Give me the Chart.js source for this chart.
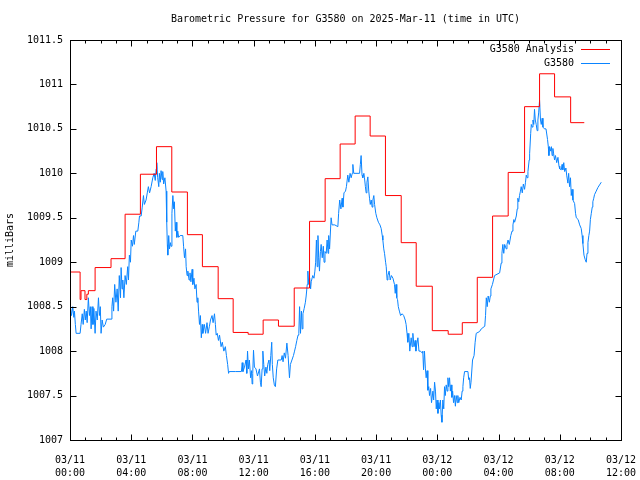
<!DOCTYPE html>
<html>
<head>
<meta charset="utf-8">
<script src="https://cdn.jsdelivr.net/npm/chart.js@4"></script>
<style>
  html, body { margin: 0; padding: 0; background: #fff; }
  canvas { display: block; }
</style>
</head>
<body>
<canvas id="pressureChart" width="640" height="480"></canvas>
<script>
// hours since 03/11 00:00 UTC
var analysisHours = [0, 0.66, 0.72, 0.98, 1.1, 1.2, 1.64, 2.68, 3.6, 4.6,
  5.65, 6.65, 7.67, 8.65, 9.68, 10.66, 11.64, 12.62, 13.62, 14.65,
  15.65, 16.67, 17.65, 18.63, 19.61, 20.61, 21.64, 22.62, 23.67, 24.71,
  25.63, 26.61, 27.61, 28.63, 29.7, 30.68, 31.66, 32.71, 33.6];
var analysisPressure = [1008.89, 1008.58, 1008.68, 1008.58, 1008.64, 1008.68, 1008.94, 1009.04, 1009.54, 1009.99,
  1010.3, 1009.79, 1009.31, 1008.95, 1008.59, 1008.21, 1008.19, 1008.35, 1008.28, 1008.71,
  1009.46, 1009.94, 1010.33, 1010.645, 1010.42, 1009.75, 1009.22, 1008.73, 1008.23, 1008.19,
  1008.32, 1008.83, 1009.52, 1010.01, 1010.75, 1011.12, 1010.86, 1010.57, 1010.57];

var stationHours = [
  0.0, 0.03, 0.1, 0.18, 0.25, 0.29, 0.35, 0.4, 0.66, 0.72,
  0.8, 0.86, 0.94, 1.0, 1.06, 1.12, 1.2, 1.27, 1.33, 1.38,
  1.44, 1.5, 1.56, 1.64, 1.7, 1.78, 1.86, 1.92, 1.98, 2.03,
  2.1, 2.18, 2.3, 2.4, 2.68, 2.74, 2.79, 2.85, 2.92, 3.0,
  3.08, 3.15, 3.22, 3.3, 3.34, 3.4, 3.45, 3.52, 3.6, 3.68,
  3.77, 3.82, 3.88, 3.95, 4.0, 4.08, 4.15, 4.2, 4.3, 4.43,
  4.5, 4.54, 4.65, 4.72, 4.8, 4.86, 4.97, 5.05, 5.12, 5.2,
  5.3, 5.41, 5.5, 5.57, 5.63, 5.67, 5.73, 5.8, 5.84, 5.9,
  5.95, 6.02, 6.06, 6.12, 6.2, 6.28, 6.32, 6.36, 6.39, 6.45,
  6.5, 6.56, 6.6, 6.66, 6.72, 6.78, 6.82, 6.88, 6.93, 6.98,
  7.04, 7.1, 7.2, 7.37, 7.42, 7.48, 7.55, 7.59, 7.65, 7.7,
  7.78, 7.84, 7.9, 7.98, 8.02, 8.1, 8.16, 8.24, 8.3, 8.35,
  8.4, 8.46, 8.52, 8.58, 8.64, 8.68, 8.78, 8.86, 8.95, 9.02,
  9.11, 9.18, 9.28, 9.35, 9.44, 9.5, 9.55, 9.62, 9.7, 9.77,
  9.87, 9.95, 10.05, 10.15, 10.22, 10.3, 10.36, 10.4, 10.8, 11.2,
  11.25, 11.3, 11.4, 11.5, 11.55, 11.6, 11.66, 11.72, 11.8, 11.86,
  11.9, 11.94, 11.99, 12.05, 12.15, 12.25, 12.38, 12.44, 12.49, 12.55,
  12.6, 12.66, 12.72, 12.8, 12.86, 12.92, 13.0, 13.05, 13.12, 13.18,
  13.22, 13.28, 13.35, 13.42, 13.5, 13.58, 13.8, 13.86, 13.92, 14.0,
  14.08, 14.17, 14.25, 14.34, 14.4, 14.5, 14.6, 14.67, 14.74, 14.82,
  14.9, 14.95, 15.0, 15.06, 15.12, 15.17, 15.22, 15.3, 15.38, 15.43,
  15.5, 15.54, 15.6, 15.66, 15.72, 15.76, 15.86, 15.94, 16.0, 16.05,
  16.1, 16.15, 16.2, 16.25, 16.3, 16.36, 16.41, 16.48, 16.55, 16.6,
  16.66, 16.74, 16.8, 16.86, 16.9, 16.96, 17.06, 17.12, 17.3, 17.5,
  17.55, 17.62, 17.7, 17.78, 17.83, 17.9, 18.0, 18.06, 18.15, 18.22,
  18.3, 18.37, 18.44, 18.48, 18.54, 18.92, 18.97, 19.02, 19.08, 19.13,
  19.2, 19.24, 19.3, 19.35, 19.4, 19.46, 19.52, 19.57, 19.62, 19.68,
  19.74, 19.79, 19.85, 19.9, 19.98, 20.05, 20.15, 20.25, 20.33, 20.4,
  20.44, 20.5, 20.55, 20.62, 20.66, 20.72, 20.77, 20.85, 20.92, 21.0,
  21.1, 21.2, 21.25, 21.3, 21.35, 21.4, 21.45, 21.52, 21.6, 21.7,
  21.8, 21.9, 21.96, 22.02, 22.07, 22.14, 22.2, 22.29, 22.35, 22.4,
  22.48, 22.55, 22.6, 22.66, 22.73, 22.8, 22.9, 23.0, 23.05, 23.1,
  23.16, 23.22, 23.27, 23.33, 23.38, 23.44, 23.49, 23.56, 23.62, 23.71,
  23.76, 23.82, 23.88, 23.93, 23.98, 24.04, 24.1, 24.14, 24.2, 24.25,
  24.3, 24.36, 24.42, 24.47, 24.52, 24.58, 24.64, 24.69, 24.74, 24.8,
  24.85, 24.9, 24.95, 25.0, 25.06, 25.12, 25.18, 25.23, 25.3, 25.34,
  25.4, 25.48, 25.56, 25.62, 25.67, 25.72, 25.78, 26.0, 26.05, 26.1,
  26.15, 26.2, 26.3, 26.4, 26.47, 26.54, 26.76, 26.87, 27.1, 27.15,
  27.2, 27.26, 27.32, 27.4, 27.46, 27.5, 27.6, 27.67, 27.74, 28.07,
  28.17, 28.22, 28.28, 28.34, 28.4, 28.5, 28.55, 28.62, 28.7, 28.8,
  28.88, 28.94, 29.0, 29.05, 29.16, 29.22, 29.26, 29.32, 29.37, 29.43,
  29.48, 29.55, 29.62, 29.7, 29.76, 29.81, 29.87, 29.92, 30.0, 30.03,
  30.1, 30.14, 30.2, 30.25, 30.3, 30.35, 30.4, 30.46, 30.52, 30.57,
  30.62, 30.68, 30.74, 30.79, 30.85, 30.9, 31.0, 31.1, 31.2, 31.25,
  31.29, 31.33, 31.4, 31.45, 31.5, 31.55, 31.6, 31.66, 31.72, 31.8,
  31.88, 31.95, 32.0, 32.1, 32.15, 32.2, 32.26, 32.32, 32.4, 32.45,
  32.53, 32.58, 32.64, 32.7, 32.75, 32.8, 32.86, 32.97, 33.03, 33.08,
  33.2, 33.3, 33.4, 33.46, 33.51, 33.58, 33.66, 33.73, 33.78, 33.84,
  33.9, 33.95, 34.0, 34.06, 34.12, 34.16, 34.22, 34.27, 34.38, 34.49,
  34.6, 34.71];
var stationPressure = [
  1008.2, 1008.5, 1008.4, 1008.5, 1008.38, 1008.45, 1008.3, 1008.2, 1008.2, 1008.3,
  1008.42, 1008.3, 1008.47, 1008.35, 1008.45, 1008.32, 1008.6, 1008.4, 1008.5, 1008.25,
  1008.5, 1008.3, 1008.48, 1008.2, 1008.45, 1008.35, 1008.6, 1008.4, 1008.5, 1008.2,
  1008.35, 1008.27, 1008.3, 1008.36, 1008.36, 1008.5, 1008.6, 1008.45, 1008.75, 1008.55,
  1008.7, 1008.45, 1008.85, 1008.6, 1008.94, 1008.7, 1008.8, 1008.6, 1008.85, 1008.75,
  1008.95, 1008.8, 1009.08, 1009.0, 1009.25, 1009.18, 1009.3, 1009.2, 1009.35, 1009.35,
  1009.45, 1009.52, 1009.52, 1009.62, 1009.75, 1009.65, 1009.7, 1009.78, 1009.85, 1009.78,
  1009.85, 1009.95, 1010.0, 1009.92, 1010.05, 1010.12, 1009.95, 1009.85, 1010.0, 1009.9,
  1010.03, 1009.93, 1010.02, 1009.88, 1009.95, 1009.8, 1009.45, 1009.2, 1009.08, 1009.3,
  1009.15, 1009.22, 1009.18, 1009.55, 1009.75, 1009.6, 1009.68, 1009.35, 1009.45, 1009.28,
  1009.35, 1009.28, 1009.3, 1009.3, 1009.18, 1009.05, 1009.15, 1008.95, 1008.85, 1008.9,
  1008.8, 1008.88, 1008.78, 1008.92, 1008.75, 1008.82, 1008.7, 1008.75, 1008.55, 1008.6,
  1008.45, 1008.3, 1008.4, 1008.15, 1008.3, 1008.2, 1008.3, 1008.2, 1008.32, 1008.2,
  1008.28, 1008.35, 1008.4, 1008.32, 1008.42, 1008.3, 1008.18, 1008.2, 1008.12, 1008.18,
  1008.05, 1008.1, 1008.0, 1008.05, 1007.95, 1007.85, 1007.75, 1007.77, 1007.77, 1007.77,
  1007.87, 1007.77, 1007.82, 1007.9, 1007.75, 1008.0, 1007.8, 1007.9, 1007.7, 1007.78,
  1007.63, 1007.75, 1008.01, 1007.82, 1007.8, 1007.72, 1007.8, 1007.65, 1007.6, 1007.8,
  1008.0, 1007.85, 1007.72, 1007.82, 1007.75, 1007.85, 1007.9, 1007.78, 1007.95, 1008.1,
  1007.85, 1007.7, 1007.62, 1007.6, 1007.8, 1007.9, 1007.9, 1007.95, 1007.88, 1007.98,
  1007.92, 1008.09, 1007.95, 1007.7, 1007.85, 1007.9, 1007.95, 1008.0, 1008.05, 1008.12,
  1008.18, 1008.2, 1008.5, 1008.2, 1008.45, 1008.25, 1008.42, 1008.48, 1008.55, 1008.62,
  1008.75, 1008.9, 1008.75, 1008.82, 1008.7, 1008.78, 1008.85, 1008.82, 1008.9, 1009.0,
  1009.25, 1008.95, 1009.3, 1009.05, 1008.9, 1009.12, 1009.2, 1009.05, 1009.18, 1009.0,
  1009.12, 1009.1, 1009.25, 1009.1, 1009.3, 1009.15, 1009.5, 1009.42, 1009.42, 1009.4,
  1009.55, 1009.7, 1009.6, 1009.72, 1009.62, 1009.78, 1009.8, 1009.85, 1009.98, 1009.9,
  1010.0, 1009.95, 1010.0, 1010.1, 1010.0, 1010.0, 1010.1, 1010.2, 1009.98, 1009.95,
  1010.0, 1009.95, 1009.85, 1009.78, 1009.9, 1009.96, 1009.8, 1009.72, 1009.65, 1009.7,
  1009.62, 1009.7, 1009.75, 1009.65, 1009.55, 1009.5, 1009.45, 1009.42, 1009.38, 1009.3,
  1009.25, 1009.15, 1009.1, 1009.0, 1008.95, 1008.8, 1008.85, 1008.9, 1008.8, 1008.85,
  1008.82, 1008.75, 1008.65, 1008.75, 1008.6, 1008.58, 1008.5, 1008.45, 1008.4, 1008.42,
  1008.4, 1008.35, 1008.3, 1008.2, 1008.1, 1008.2, 1008.0, 1008.15, 1008.05, 1008.2,
  1008.05, 1008.12, 1008.0, 1008.08, 1008.15, 1008.0, 1008.0, 1007.98, 1008.0, 1007.79,
  1008.0, 1007.8, 1007.7, 1007.78, 1007.56, 1007.6, 1007.5, 1007.58, 1007.42, 1007.55,
  1007.45, 1007.65, 1007.55, 1007.35, 1007.45, 1007.3, 1007.42, 1007.35, 1007.45, 1007.28,
  1007.2, 1007.45, 1007.35, 1007.6, 1007.5, 1007.62, 1007.55, 1007.7, 1007.6, 1007.7,
  1007.55, 1007.62, 1007.48, 1007.55, 1007.42, 1007.5, 1007.38, 1007.5, 1007.42, 1007.5,
  1007.42, 1007.48, 1007.45, 1007.55, 1007.6, 1007.7, 1007.77, 1007.77, 1007.68, 1007.7,
  1007.58, 1007.65, 1007.9, 1007.95, 1008.1, 1008.2, 1008.22, 1008.25, 1008.28, 1008.4,
  1008.6, 1008.5, 1008.62, 1008.55, 1008.62, 1008.7, 1008.75, 1008.8, 1008.85, 1008.88,
  1008.99, 1009.1, 1009.2, 1009.1, 1009.2, 1009.15, 1009.2, 1009.25, 1009.2, 1009.3,
  1009.35, 1009.42, 1009.48, 1009.45, 1009.52, 1009.6, 1009.72, 1009.68, 1009.75, 1009.8,
  1009.85, 1009.78, 1009.88, 1009.82, 1009.9, 1009.98, 1009.95, 1010.02, 1010.15, 1010.22,
  1010.45, 1010.55, 1010.52, 1010.6, 1010.55, 1010.72, 1010.6, 1010.55, 1010.48, 1010.6,
  1010.68, 1010.82, 1010.6, 1010.55, 1010.62, 1010.52, 1010.5, 1010.5, 1010.38, 1010.3,
  1010.2, 1010.3, 1010.25, 1010.3, 1010.2, 1010.28, 1010.22, 1010.15, 1010.2, 1010.12,
  1010.18, 1010.08, 1010.05, 1010.04, 1010.1, 1010.04, 1010.12, 1010.02, 1010.06, 1009.98,
  1009.89, 1010.0, 1009.85, 1009.95, 1009.75, 1009.82, 1009.7, 1009.66, 1009.55, 1009.5,
  1009.48, 1009.42, 1009.38, 1009.3, 1009.21, 1009.08, 1009.03, 1009.0, 1009.1, 1009.22,
  1009.3, 1009.35, 1009.48, 1009.55, 1009.62, 1009.68, 1009.72, 1009.76, 1009.8, 1009.84,
  1009.87, 1009.9];

var xTickHours = [0, 4, 8, 12, 16, 20, 24, 28, 32, 36];
var xTickLabels = [['03/11', '00:00'], ['03/11', '04:00'], ['03/11', '08:00'], ['03/11', '12:00'],
  ['03/11', '16:00'], ['03/11', '20:00'], ['03/12', '00:00'], ['03/12', '04:00'],
  ['03/12', '08:00'], ['03/12', '12:00']];
var yTickValues = [1007, 1007.5, 1008, 1008.5, 1009, 1009.5, 1010, 1010.5, 1011, 1011.5];
var yTickLabels = ['1007', '1007.5', '1008', '1008.5', '1009', '1009.5', '1010', '1010.5', '1011', '1011.5'];

var chartTitle = 'Barometric Pressure for G3580 on 2025-Mar-11 (time in UTC)';
var FONT = '"DejaVu Sans Mono", "Liberation Mono", monospace';
var RED = '#ff0000';
var BLUE = '#0a84ff';

function toPoints(xs, ys) {
  return xs.map(function (x, i) { return { x: x, y: ys[i] }; });
}

// frame, inward ticks, title and gnuplot-style key
var gnuplotDecor = {
  id: 'gnuplotDecor',
  afterDraw: function (chart) {
    var ctx = chart.ctx;
    var a = chart.chartArea;
    var xs = chart.scales.x, ys = chart.scales.y;
    var L = Math.round(a.left) + 0.5, R = Math.round(a.right) + 0.5;
    var T = Math.round(a.top) + 0.5, B = Math.round(a.bottom) + 0.5;
    ctx.save();
    ctx.strokeStyle = '#000';
    ctx.lineWidth = 1;
    ctx.strokeRect(L, T, R - L, B - T);
    ctx.beginPath();
    for (var h = 0; h <= 36; h++) {
      var px = Math.round(xs.getPixelForValue(h)) + 0.5;
      var len = (h % 4 === 0) ? 6 : 3;
      ctx.moveTo(px, B); ctx.lineTo(px, B - len);
      ctx.moveTo(px, T); ctx.lineTo(px, T + len);
    }
    yTickValues.forEach(function (v) {
      var py = Math.round(ys.getPixelForValue(v)) + 0.5;
      ctx.moveTo(L, py); ctx.lineTo(L + 6, py);
      ctx.moveTo(R, py); ctx.lineTo(R - 6, py);
    });
    ctx.stroke();

    ctx.fillStyle = '#000';
    ctx.font = '10px ' + FONT;
    ctx.textBaseline = 'middle';
    ctx.textAlign = 'center';
    ctx.fillText(chartTitle, (a.left + a.right) / 2, 19);

    // key: label right-aligned, sample line on its right
    var keyColors = [RED, BLUE];
    chart.data.datasets.forEach(function (ds, i) {
      var y = 49 + i * 14;
      ctx.textAlign = 'right';
      ctx.fillStyle = '#000';
      ctx.fillText(ds.label, 574, y);
      ctx.fillStyle = keyColors[i];
      ctx.fillRect(581, y, 29, 1);
    });
    ctx.restore();
  }
};

new Chart(document.getElementById('pressureChart'), {
  type: 'line',
  data: {
    datasets: [
      {
        label: 'G3580 Analysis',
        data: toPoints(analysisHours, analysisPressure),
        borderColor: RED,
        borderWidth: 1,
        pointRadius: 0,
        stepped: true,
        fill: false
      },
      {
        label: 'G3580',
        data: toPoints(stationHours, stationPressure),
        borderColor: BLUE,
        borderWidth: 1,
        pointRadius: 0,
        tension: 0,
        fill: false
      }
    ]
  },
  options: {
    responsive: false,
    animation: false,
    layout: { padding: { top: 40, right: 19, left: 0, bottom: 0 } },
    plugins: {
      legend: { display: false },
      title: { display: false },
      tooltip: { enabled: false }
    },
    scales: {
      x: {
        type: 'linear',
        min: 0,
        max: 36,
        afterBuildTicks: function (s) { s.ticks = xTickHours.map(function (v) { return { value: v }; }); },
        afterFit: function (s) { s.height = 40; s.paddingLeft = 0; s.paddingRight = 0; },
        grid: { display: false, drawTicks: false },
        border: { display: false },
        ticks: {
          autoSkip: false,
          maxRotation: 0,
          padding: 14,
          color: '#000',
          font: { family: FONT, size: 10, lineHeight: 1.3 },
          callback: function (v, i) { return xTickLabels[i]; }
        }
      },
      y: {
        min: 1007,
        max: 1011.5,
        afterBuildTicks: function (s) { s.ticks = yTickValues.map(function (v) { return { value: v }; }); },
        afterFit: function (s) { s.width = 70; s.paddingTop = 0; s.paddingBottom = 0; },
        grid: { display: false, drawTicks: false },
        border: { display: false },
        title: {
          display: true,
          text: 'milliBars',
          color: '#000',
          font: { family: FONT, size: 10 },
          padding: { top: 4, bottom: 0 }
        },
        ticks: {
          padding: 7,
          color: '#000',
          font: { family: FONT, size: 10 },
          callback: function (v, i) { return yTickLabels[i]; }
        }
      }
    }
  },
  plugins: [gnuplotDecor]
});
</script>
</body>
</html>
